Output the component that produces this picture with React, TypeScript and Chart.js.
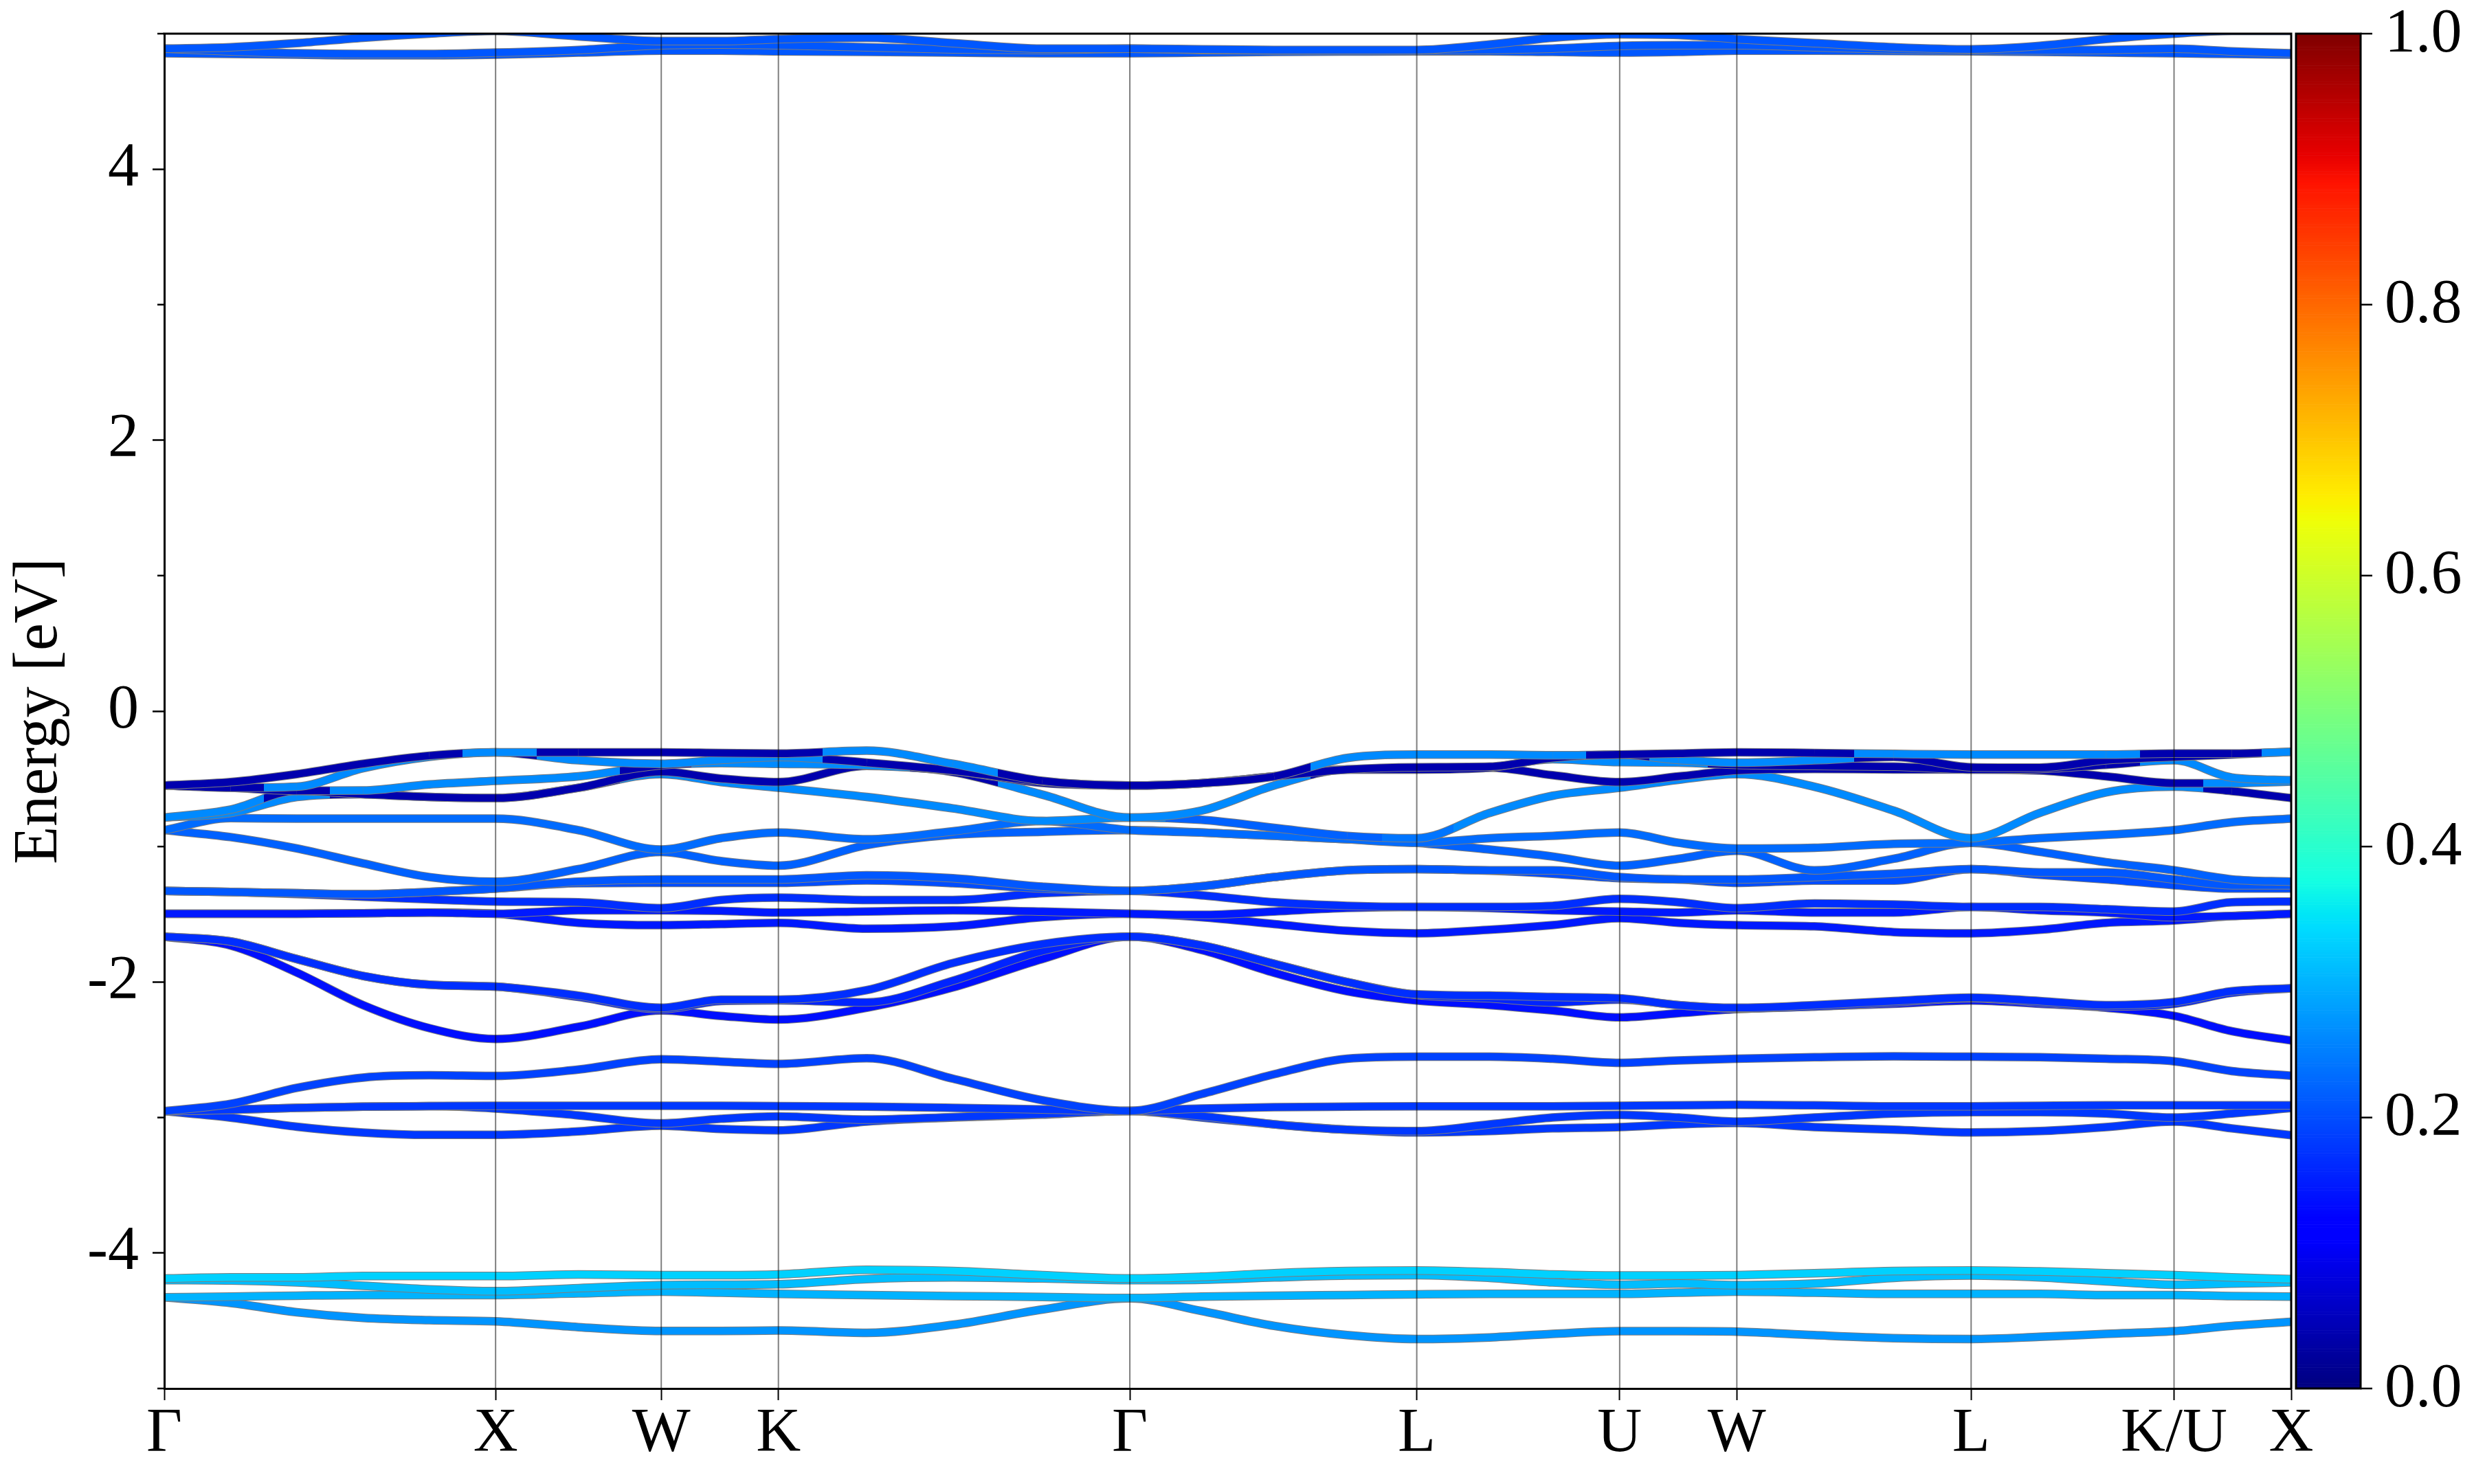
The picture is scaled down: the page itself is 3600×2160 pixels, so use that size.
import React, { useEffect, useRef } from "react";
import { Chart, registerables } from "chart.js";
Chart.register(...registerables);

const FONT = "'Liberation Serif', 'Times New Roman', serif";

// k-path (cumulative distance, 2pi/a units)
const kPath = [0, 0.2, 0.4, 0.6, 0.8, 1.0, 1.25, 1.5, 1.68, 1.8536, 2.12, 2.38, 2.65, 2.9142, 3.13, 3.35, 3.57, 3.7802, 4.0, 4.19, 4.3926, 4.57, 4.7462, 4.98, 5.22, 5.4533, 5.66, 5.86, 6.0657, 6.24, 6.4193];
const kTicks = [0, 1.0, 1.5, 1.8536, 2.9142, 3.7802, 4.3926, 4.7462, 5.4533, 6.0657, 6.4193];
const kLabels = ["Γ", "X", "W", "K", "Γ", "L", "U", "W", "L", "K/U", "X"];
const yTicks = [-4, -2, 0, 2, 4];
const yMinorTicks = [-5, -3, -1, 1, 3, 5];
const cbTicks = [0, 0.2, 0.4, 0.6, 0.8, 1.0];
const cbLabels = ["0.0", "0.2", "0.4", "0.6", "0.8", "1.0"];

// conduction bands near 4.9 eV
const cond0 = [4.89, 4.90, 4.93, 4.97, 5.0, 5.02, 4.98, 4.945, 4.945, 4.96, 4.97, 4.93, 4.89, 4.89, 4.885, 4.88, 4.88, 4.88, 4.92, 4.97, 4.995, 4.99, 4.96, 4.93, 4.9, 4.885, 4.91, 4.96, 5.0, 5.02, 5.02];
const cond1 = [4.89, 4.87, 4.855, 4.85, 4.85, 4.86, 4.88, 4.915, 4.92, 4.915, 4.9, 4.885, 4.88, 4.89, 4.88, 4.877, 4.877, 4.877, 4.88, 4.89, 4.91, 4.915, 4.915, 4.9, 4.885, 4.877, 4.877, 4.88, 4.89, 4.87, 4.855];
const cond2 = [4.855, 4.85, 4.845, 4.84, 4.84, 4.845, 4.86, 4.875, 4.875, 4.87, 4.865, 4.86, 4.855, 4.855, 4.86, 4.865, 4.868, 4.87, 4.87, 4.865, 4.86, 4.865, 4.875, 4.875, 4.872, 4.87, 4.865, 4.86, 4.855, 4.85, 4.845];

// upper valence manifold (-0.3 .. -1.65 eV)
const val0 = [-0.549, -0.524, -0.465, -0.389, -0.329, -0.304, -0.304, -0.304, -0.309, -0.313, -0.292, -0.389, -0.515, -0.549, -0.532, -0.482, -0.346, -0.321, -0.321, -0.326, -0.321, -0.313, -0.304, -0.309, -0.316, -0.321, -0.321, -0.321, -0.313, -0.313, -0.30];
const val1 = [-0.549, -0.566, -0.558, -0.422, -0.338, -0.304, -0.363, -0.389, -0.36, -0.338, -0.38, -0.439, -0.52, -0.549, -0.532, -0.482, -0.431, -0.414, -0.41, -0.346, -0.321, -0.36, -0.38, -0.363, -0.338, -0.414, -0.417, -0.363, -0.338, -0.321, -0.30];
const val2 = [-0.549, -0.566, -0.588, -0.586, -0.541, -0.515, -0.482, -0.40, -0.384, -0.389, -0.40, -0.44, -0.53, -0.549, -0.532, -0.482, -0.431, -0.431, -0.417, -0.355, -0.377, -0.38, -0.397, -0.405, -0.41, -0.431, -0.427, -0.397, -0.363, -0.49, -0.51];
const val3 = [-0.786, -0.727, -0.588, -0.613, -0.634, -0.642, -0.566, -0.448, -0.498, -0.524, -0.405, -0.45, -0.617, -0.786, -0.735, -0.549, -0.431, -0.431, -0.417, -0.473, -0.524, -0.482, -0.439, -0.427, -0.431, -0.431, -0.439, -0.482, -0.532, -0.532, -0.52];
const val4 = [-0.786, -0.752, -0.634, -0.613, -0.634, -0.642, -0.566, -0.465, -0.524, -0.566, -0.634, -0.718, -0.811, -0.786, -0.803, -0.862, -0.921, -0.938, -0.752, -0.625, -0.566, -0.507, -0.465, -0.558, -0.735, -0.938, -0.752, -0.6, -0.558, -0.591, -0.642];
const val5 = [-0.879, -0.79, -0.794, -0.794, -0.794, -0.794, -0.879, -1.022, -0.938, -0.896, -0.946, -0.887, -0.811, -0.879, -0.896, -0.921, -0.946, -0.972, -0.938, -0.921, -0.896, -0.972, -1.014, -1.009, -0.98, -0.972, -0.938, -0.913, -0.879, -0.82, -0.794];
const val6 = [-0.879, -0.93, -1.014, -1.124, -1.225, -1.259, -1.166, -1.039, -1.107, -1.141, -0.989, -0.913, -0.891, -0.879, -0.896, -0.921, -0.946, -0.972, -1.022, -1.073, -1.141, -1.09, -1.031, -1.175, -1.09, -0.972, -1.039, -1.115, -1.175, -1.242, -1.259];
const val7 = [-1.327, -1.335, -1.344, -1.352, -1.335, -1.31, -1.259, -1.242, -1.242, -1.242, -1.212, -1.234, -1.296, -1.327, -1.293, -1.225, -1.175, -1.166, -1.175, -1.175, -1.225, -1.242, -1.242, -1.225, -1.2, -1.166, -1.19, -1.191, -1.242, -1.285, -1.285];
const val8 = [-1.327, -1.335, -1.344, -1.352, -1.335, -1.31, -1.27, -1.268, -1.268, -1.268, -1.25, -1.27, -1.31, -1.327, -1.293, -1.225, -1.175, -1.166, -1.178, -1.2, -1.234, -1.242, -1.268, -1.251, -1.251, -1.166, -1.208, -1.242, -1.285, -1.31, -1.31];
const val9 = [-1.327, -1.335, -1.35, -1.37, -1.39, -1.406, -1.411, -1.454, -1.394, -1.377, -1.394, -1.394, -1.344, -1.327, -1.36, -1.411, -1.437, -1.445, -1.445, -1.437, -1.386, -1.411, -1.454, -1.42, -1.428, -1.445, -1.445, -1.462, -1.479, -1.411, -1.406];
const val10 = [-1.496, -1.496, -1.496, -1.492, -1.487, -1.496, -1.47, -1.47, -1.475, -1.487, -1.479, -1.471, -1.48, -1.496, -1.504, -1.479, -1.453, -1.445, -1.454, -1.47, -1.479, -1.487, -1.47, -1.487, -1.487, -1.445, -1.47, -1.487, -1.521, -1.513, -1.496];
const val11 = [-1.496, -1.496, -1.496, -1.492, -1.487, -1.496, -1.563, -1.58, -1.572, -1.563, -1.606, -1.589, -1.521, -1.496, -1.521, -1.572, -1.622, -1.64, -1.614, -1.58, -1.529, -1.563, -1.58, -1.589, -1.631, -1.64, -1.614, -1.563, -1.546, -1.513, -1.496];

// projection weights of the upper valence bands
const D = 0.04;
const T = 0.26;
const wVal0 = [D, D, D, D, D, T, D, D, D, D, T, T, D, D, D, D, T, T, T, T, D, D, D, D, T, T, T, T, D, D, T];
const wVal1 = [D, D, T, T, T, D, T, T, T, T, D, D, D, D, D, D, D, D, D, D, D, T, T, T, D, D, D, D, D, D, T];
const wVal2 = [D, D, D, T, T, T, T, D, T, T, T, D, D, D, D, D, D, D, D, T, T, T, D, D, D, D, D, D, T, T, T];
const wVal3 = [T, T, D, D, D, D, D, D, D, D, D, D, T, T, T, T, D, D, D, D, D, D, D, D, D, D, D, D, D, T, T];
const wVal4 = [T, T, T, D, D, D, D, T, T, T, T, T, T, T, 0.22, 0.22, 0.22, 0.24, T, T, T, T, T, T, T, T, T, T, T, D, D];

// middle valence group (-1.65 .. -2.45 eV)
const mid0 = [-1.665, -1.70, -1.83, -1.955, -2.02, -2.034, -2.10, -2.19, -2.13, -2.13, -2.06, -1.86, -1.72, -1.665, -1.729, -1.865, -2.0, -2.091, -2.10, -2.11, -2.12, -2.17, -2.19, -2.17, -2.14, -2.114, -2.14, -2.17, -2.147, -2.068, -2.046];
const mid1 = [-1.665, -1.70, -1.83, -1.955, -2.02, -2.034, -2.11, -2.20, -2.14, -2.135, -2.15, -1.99, -1.77, -1.665, -1.729, -1.865, -2.0, -2.095, -2.12, -2.15, -2.13, -2.17, -2.195, -2.18, -2.15, -2.12, -2.15, -2.18, -2.16, -2.08, -2.046];
const mid2 = [-1.665, -1.73, -1.93, -2.17, -2.34, -2.42, -2.33, -2.21, -2.25, -2.277, -2.19, -2.04, -1.83, -1.665, -1.763, -1.932, -2.068, -2.136, -2.17, -2.21, -2.261, -2.23, -2.20, -2.18, -2.16, -2.136, -2.16, -2.19, -2.25, -2.363, -2.431];

// lower valence group (-2.5 .. -3.15 eV)
const low0 = [-2.953, -2.899, -2.781, -2.705, -2.688, -2.693, -2.646, -2.57, -2.587, -2.604, -2.562, -2.713, -2.872, -2.951, -2.827, -2.68, -2.566, -2.551, -2.551, -2.566, -2.596, -2.578, -2.566, -2.555, -2.548, -2.551, -2.555, -2.566, -2.585, -2.657, -2.691];
const low1 = [-2.953, -2.942, -2.928, -2.92, -2.916, -2.913, -2.913, -2.913, -2.913, -2.916, -2.919, -2.928, -2.94, -2.951, -2.933, -2.924, -2.92, -2.917, -2.917, -2.917, -2.913, -2.91, -2.906, -2.91, -2.917, -2.917, -2.913, -2.91, -2.91, -2.91, -2.91];
const low2 = [-2.953, -2.942, -2.928, -2.92, -2.916, -2.933, -2.984, -3.043, -3.009, -2.992, -3.015, -2.997, -2.974, -2.951, -2.99, -3.05, -3.09, -3.10, -3.05, -3.0, -2.98, -3.0, -3.03, -3.0, -2.97, -2.96, -2.96, -2.97, -3.0, -2.97, -2.93];
const low3 = [-2.953, -3.001, -3.068, -3.111, -3.128, -3.128, -3.102, -3.06, -3.085, -3.094, -3.03, -3.0, -2.978, -2.951, -3.0, -3.05, -3.09, -3.11, -3.10, -3.08, -3.07, -3.05, -3.04, -3.07, -3.09, -3.11, -3.10, -3.07, -3.03, -3.08, -3.13];

// deep group (-4.1 .. -4.65 eV)
const deep0 = [-4.188, -4.18, -4.18, -4.17, -4.17, -4.17, -4.158, -4.163, -4.163, -4.158, -4.124, -4.133, -4.163, -4.188, -4.175, -4.149, -4.133, -4.129, -4.141, -4.158, -4.166, -4.166, -4.163, -4.149, -4.133, -4.129, -4.136, -4.149, -4.163, -4.18, -4.192];
const deep1 = [-4.20, -4.203, -4.217, -4.242, -4.268, -4.281, -4.259, -4.237, -4.234, -4.231, -4.192, -4.18, -4.188, -4.20, -4.197, -4.18, -4.166, -4.163, -4.183, -4.217, -4.234, -4.226, -4.237, -4.226, -4.183, -4.166, -4.18, -4.209, -4.234, -4.226, -4.217];
const deep2 = [-4.327, -4.322, -4.315, -4.31, -4.31, -4.31, -4.298, -4.285, -4.293, -4.302, -4.31, -4.318, -4.324, -4.332, -4.322, -4.315, -4.31, -4.305, -4.302, -4.302, -4.302, -4.293, -4.285, -4.293, -4.302, -4.302, -4.302, -4.31, -4.31, -4.318, -4.322];
const deep3 = [-4.327, -4.369, -4.437, -4.479, -4.496, -4.504, -4.547, -4.575, -4.575, -4.572, -4.589, -4.53, -4.417, -4.335, -4.428, -4.538, -4.606, -4.635, -4.623, -4.597, -4.577, -4.577, -4.58, -4.606, -4.628, -4.635, -4.619, -4.597, -4.577, -4.538, -4.508];

type Band = { e: number[]; w: number[] | number };
const bands: Band[] = [
  { e: deep3, w: 0.27 },
  { e: deep2, w: 0.3 },
  { e: deep1, w: 0.31 },
  { e: deep0, w: 0.33 },
  { e: low3, w: 0.18 },
  { e: low2, w: 0.18 },
  { e: low1, w: 0.18 },
  { e: low0, w: 0.19 },
  { e: mid2, w: 0.14 },
  { e: mid1, w: 0.16 },
  { e: mid0, w: 0.17 },
  { e: val11, w: 0.15 },
  { e: val10, w: 0.15 },
  { e: val9, w: 0.17 },
  { e: val8, w: 0.2 },
  { e: val7, w: 0.21 },
  { e: val6, w: 0.22 },
  { e: val5, w: 0.23 },
  { e: val4, w: wVal4 },
  { e: val3, w: wVal3 },
  { e: val2, w: wVal2 },
  { e: val1, w: wVal1 },
  { e: val0, w: wVal0 },
  { e: cond2, w: 0.21 },
  { e: cond1, w: 0.21 },
  { e: cond0, w: 0.21 },
];

function interp(pts: number[][], x: number): number {
  for (let i = 1; i < pts.length; i++) {
    if (x <= pts[i][0]) {
      const [x0, y0] = pts[i - 1];
      const [x1, y1] = pts[i];
      return y0 + ((y1 - y0) * (x - x0)) / (x1 - x0);
    }
  }
  return pts[pts.length - 1][1];
}
function jet(v: number): string {
  const x = Math.max(0, Math.min(1, v));
  const r = interp([[0, 0], [0.35, 0], [0.66, 1], [0.89, 1], [1, 0.5]], x);
  const g = interp([[0, 0], [0.125, 0], [0.375, 1], [0.64, 1], [0.91, 0], [1, 0]], x);
  const b = interp([[0, 0.5], [0.11, 1], [0.34, 1], [0.65, 0], [1, 0]], x);
  return `rgb(${Math.round(r * 255)},${Math.round(g * 255)},${Math.round(b * 255)})`;
}

const wAt = (w: number[] | number, i: number) => (typeof w === "number" ? w : w[i]);

const framePlugin = {
  id: "frame",
  afterDatasetsDraw(chart: any) {
    const { ctx, chartArea: a, scales } = chart;
    const x = scales.x;
    ctx.save();
    ctx.strokeStyle = "rgba(0,0,0,0.5)";
    ctx.lineWidth = 2;
    kTicks.slice(1, -1).forEach((k) => {
      const px = x.getPixelForValue(k);
      ctx.beginPath();
      ctx.moveTo(px, a.top);
      ctx.lineTo(px, a.bottom);
      ctx.stroke();
    });
    ctx.restore();
  },
  afterDraw(chart: any) {
    const { ctx, chartArea: a, scales } = chart;
    const y = scales.y;
    ctx.save();
    // top & right spines
    ctx.strokeStyle = "#000";
    ctx.lineWidth = 3;
    ctx.beginPath();
    ctx.moveTo(a.left - 1.5, a.top);
    ctx.lineTo(a.right, a.top);
    ctx.lineTo(a.right, a.bottom + 1.5);
    ctx.stroke();
    // minor y ticks
    ctx.lineWidth = 2.5;
    yMinorTicks.forEach((v) => {
      const py = y.getPixelForValue(v);
      ctx.beginPath();
      ctx.moveTo(a.left - 10, py);
      ctx.lineTo(a.left, py);
      ctx.stroke();
    });
    // y title
    ctx.fillStyle = "#000";
    ctx.font = `90px ${FONT}`;
    ctx.textAlign = "center";
    ctx.textBaseline = "alphabetic";
    ctx.translate(82, (a.top + a.bottom) / 2);
    ctx.rotate(-Math.PI / 2);
    ctx.fillText("Energy [eV]", 0, 0);
    ctx.restore();

    // colorbar
    ctx.save();
    const cbL = 3341;
    const cbR = 3435;
    const top = a.top;
    const bot = a.bottom;
    const n = 512;
    const h = (bot - top) / n;
    for (let i = 0; i < n; i++) {
      const v = (i + 0.5) / n;
      ctx.fillStyle = jet(v);
      ctx.fillRect(cbL, bot - (i + 1) * h, cbR - cbL, h + 0.6);
    }
    ctx.strokeStyle = "#000";
    ctx.lineWidth = 3;
    ctx.strokeRect(cbL, top, cbR - cbL, bot - top);
    ctx.lineWidth = 2.5;
    ctx.fillStyle = "#000";
    ctx.font = `90px ${FONT}`;
    ctx.textAlign = "left";
    ctx.textBaseline = "middle";
    cbTicks.forEach((t, i) => {
      const py = bot - t * (bot - top);
      ctx.beginPath();
      ctx.moveTo(cbR, py);
      ctx.lineTo(cbR + 17, py);
      ctx.stroke();
      ctx.fillText(cbLabels[i], 3470, py + 2);
    });
    ctx.restore();
  },
};

export default function App() {
  const ref = useRef<HTMLCanvasElement | null>(null);
  useEffect(() => {
    if (!ref.current) return;
    Chart.defaults.font.family = FONT;
    const datasets: any[] = [];
    bands.forEach((b, j) => {
      const data = kPath.map((k, i) => ({ x: k, y: b.e[i] }));
      const common = {
        data,
        pointRadius: 0,
        cubicInterpolationMode: "monotone",
        clip: 0,
        borderCapStyle: "butt",
        borderJoinStyle: "round",
        fill: false,
      };
      datasets.push({
        ...common,
        borderColor: "rgb(125,125,125)",
        borderWidth: 12.5,
        order: 1000 - 2 * j,
      });
      datasets.push({
        ...common,
        borderColor: jet(wAt(b.w, 0)),
        borderWidth: 10.5,
        order: 999 - 2 * j,
        segment: {
          borderColor: (c: any) => {
            const w0 = wAt(b.w, c.p0DataIndex);
            const w1 = wAt(b.w, c.p1DataIndex);
            const c0 = jet(w0);
            if (Math.abs(w0 - w1) < 0.005) return c0;
            const c1 = jet(w1);
            const g = c.chart.ctx.createLinearGradient(c.p0.x, 0, c.p1.x, 0);
            g.addColorStop(0, c0);
            g.addColorStop(0.5, c0);
            g.addColorStop(0.5, c1);
            g.addColorStop(1, c1);
            return g;
          },
        },
      });
    });

    const chart = new Chart(ref.current, {
      type: "line",
      data: { datasets },
      options: {
        responsive: false,
        animation: false,
        devicePixelRatio: 1,
        events: [],
        layout: { padding: { left: 0, top: 49, right: 266, bottom: 0 } },
        plugins: { legend: { display: false }, tooltip: { enabled: false } },
        scales: {
          x: {
            type: "linear",
            min: 0,
            max: kTicks[kTicks.length - 1],
            afterBuildTicks: (axis: any) => {
              axis.ticks = kTicks.map((v) => ({ value: v }));
            },
            afterFit: (axis: any) => {
              axis.height = 139;
              axis.paddingLeft = 0;
              axis.paddingRight = 0;
              axis.paddingTop = 0;
              axis.paddingBottom = 0;
            },
            ticks: {
              autoSkip: false,
              maxRotation: 0,
              minRotation: 0,
              padding: 5,
              color: "#000",
              font: { family: FONT, size: 90, lineHeight: 1 },
              callback: (_v: any, i: number) => kLabels[i],
            },
            grid: { drawOnChartArea: false, drawTicks: true, tickLength: 17, tickWidth: 2, tickColor: "#000" },
            border: { display: true, width: 3, color: "#000", z: 1 },
          },
          y: {
            type: "linear",
            min: -5,
            max: 5,
            afterBuildTicks: (axis: any) => {
              axis.ticks = yTicks.map((v) => ({ value: v }));
            },
            afterFit: (axis: any) => {
              axis.width = 239;
              axis.paddingTop = 0;
              axis.paddingBottom = 0;
              axis.paddingLeft = 0;
              axis.paddingRight = 0;
            },
            ticks: {
              padding: 20,
              color: "#000",
              font: { family: FONT, size: 90 },
              callback: (v: any) => String(v),
            },
            grid: { drawOnChartArea: false, drawTicks: true, tickLength: 17, tickWidth: 2.5, tickColor: "#000" },
            border: { display: true, width: 3, color: "#000", z: 1 },
          },
        },
      } as any,
      plugins: [framePlugin],
    });
    return () => chart.destroy();
  }, []);
  return (
    <div style={{ position: "absolute", left: 0, top: 0, width: 3600, height: 2160, background: "#fff" }}>
      <canvas ref={ref} width={3600} height={2160} style={{ display: "block" }} />
    </div>
  );
}
